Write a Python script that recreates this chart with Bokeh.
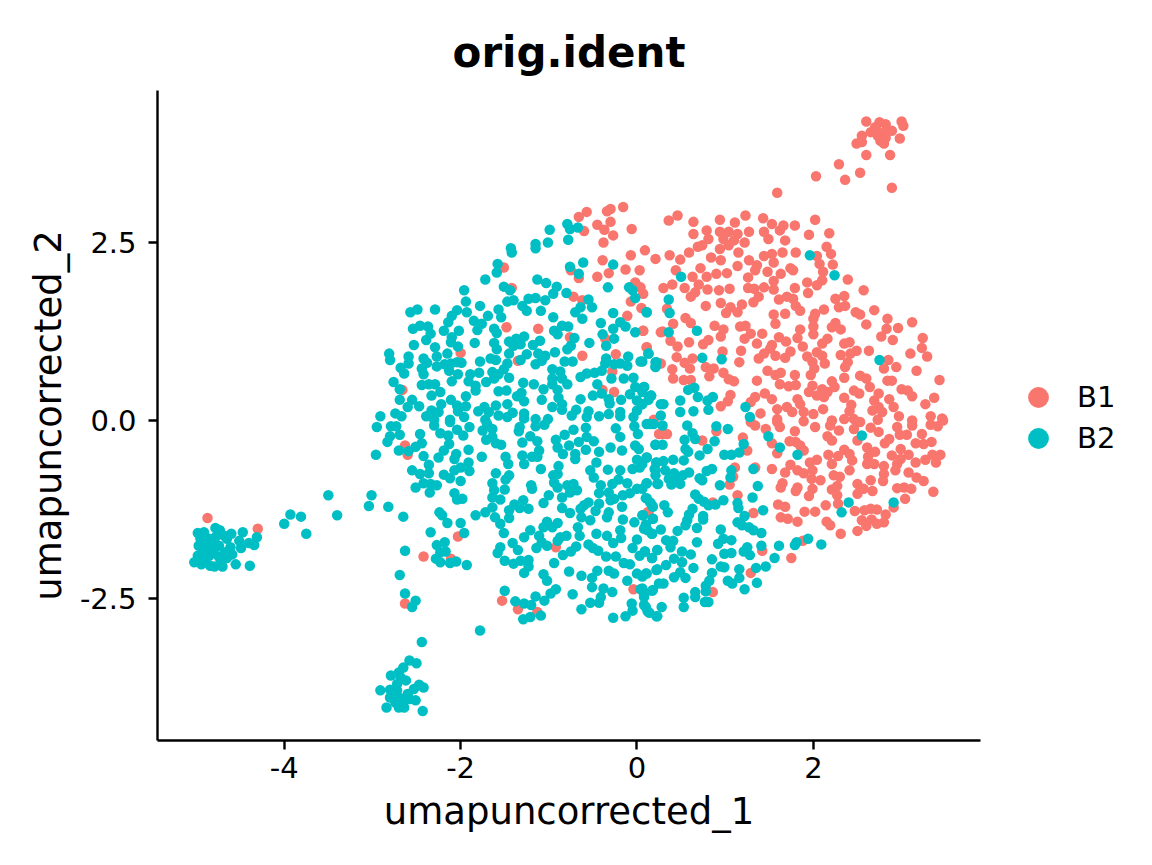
from bokeh.plotting import figure
from bokeh.layouts import row
from bokeh.models import Legend, LegendItem, FixedTicker, Range1d
from bokeh.embed import file_html
from bokeh.resources import INLINE

title_text = "orig.ident"
x_label = "umapuncorrected_1"
y_label = "umapuncorrected_2"
x_ticks = [-4, -2, 0, 2]
x_tick_labels = ["-4", "-2", "0", "2"]
y_ticks = [-2.5, 0, 2.5]
y_tick_labels = ["-2.5", "0.0", "2.5"]
series_names = ["B1", "B2"]
series_colors = ["#F8766D", "#00BFC4"]

b1_upper_right = [(.36,2.81),(.46,2.88),(.64,2.79),(.94,2.82),(1.11,2.78),(1.23,2.88),(1.43,2.84),(1.53,2.76),(1.66,2.74),(1.79,2.74),(2.02,2.82),
(.64,2.62),(.79,2.67),(.94,2.65),(1.04,2.65),(1.14,2.62),(1.27,2.65),(1.44,2.65),(1.62,2.67),(1.95,2.61),(2.18,2.63),(.81,2.55),(.98,2.55),(1.10,2.53),(1.49,2.55),(1.68,2.53),
(.74,2.46),(.69,2.44),(1.22,2.5),(.94,2.41),(1.04,2.46),(1.15,2.36),(.59,2.36),(.09,2.39),(.37,2.32),(1.80,2.36),(1.65,2.36),(1.53,2.34),(1.44,2.31),(2.15,2.44),(2.2,2.34),
(.21,2.27),(.49,2.26),(.84,2.29),(.95,2.25),(1.27,2.25),(1.55,2.22),(2.04,2.31),(2.07,2.2),(2.22,2.19),(.72,2.14),(1.14,2.17),(1.36,2.18),(1.74,2.14),(.44,2.11),(1.34,2.11),(1.48,2.09),(1.77,2.11),(2.11,2.09),
(.90,2.06),(1.02,2.07),(1.63,2.06),(.63,2.02),(.79,2.02),(1.26,2.01),(2.39,1.98),(1.55,1.96),(1.93,1.94),(2.1,1.97),(.40,1.91),(.70,1.91),(1.44,1.87),(2.04,1.9),(.30,1.86),(.54,1.86),(.80,1.84),(.93,1.83),(1.05,1.85),(1.26,1.86),(1.33,1.85),(1.55,1.84),(1.79,1.86),(1.94,1.79),(2.57,1.83),(.66,1.8),
(.61,1.74),(1.38,1.74),(2.35,1.75),(1.61,1.70),(1.70,1.74),(1.77,1.71),(2.25,1.71),(.95,1.65),(1.32,1.66),(.78,1.61),(1.19,1.63),(2.29,1.59),(2.36,1.61),(1.06,1.59),(1.80,1.61),(2.12,1.56),(2.48,1.52),(2.69,1.55),(.34,1.57),(1.01,1.51),(1.14,1.52),(1.85,1.54),(1.68,1.50),(1.55,1.49),(2.02,1.5),(2.53,1.49),
(.55,1.44),(2.84,1.43),(2.0,1.43),(2.25,1.37),(.61,1.37),(1.57,1.36),(2.6,1.35),(3.12,1.38),(.41,1.36),(.88,1.33),(1.17,1.32),(1.23,1.33),(2.0,1.32),(2.21,1.31),(2.31,1.28),(2.83,1.29),(2.96,1.3),(.98,1.28),(.07,1.26),(.29,1.25),(1.85,1.28),
(1.29,1.22),(1.42,1.22),(2.0,1.21),(.95,1.18),(1.22,1.15),(1.82,1.16),(1.61,1.17),(1.69,1.11),(2.16,1.15),(2.77,1.18),(3.24,1.16),(.81,1.13),(.38,1.12),(2.9,1.13),(.59,1.1),(1.36,1.08),(2.1,1.08),(2.35,1.08),(2.41,1.1),(.75,1.07),(1.53,1.06),(.46,1.04),(.11,1.03),(1.88,1.04),(3.23,1.02),
(.97,.97),(1.18,.98),(2.63,.98),(2.49,.98),(1.51,1.01),(1.74,.97),(1.44,.94),(2.04,.96),(2.42,.94),(2.31,.92),(3.10,.94),(.45,.89),(.63,.87),(1.38,.87),(1.57,.91),(1.68,.88),(1.93,.90),(2.1,.91),(3.29,.9),(2.85,.85),(1.16,.82),(.54,.81),(.27,.8),(1.99,.82),(2.13,.8),(2.39,.82),
(.78,.75),(.87,.73),(2.36,.75),(2.8,.73),(2.94,.75),(.6,.73),(.40,.72),(1.48,.7),(2.01,.73),(3.17,.7),(.98,.67),(.82,.62),(1.63,.67),(1.57,.64),(1.79,.64),(1.97,.64),(2.53,.63),(2.35,.6),(.41,.59),(.53,.57),(.61,.57),(1.04,.58),(1.10,.55),(1.36,.56),(2.6,.59),(2.84,.56),(2.89,.56),(3.43,.57),(2.21,.55),
(1.62,.51),(1.72,.48),(1.80,.5),(1.99,.49),(2.24,.47),(2.64,.47),(3.0,.44),(2.1,.44),(2.46,.42),(3.07,.42),(1.95,.4),(2.16,.4),(1.45,.38),(2.52,.38),(2.74,.38),(3.12,.34),(2.04,.35),(2.12,.33),(1.34,.33),(1.06,.36),(2.35,.32),(3.37,.32),(1.53,.3),(1.82,.3),(2.69,.28),(2.86,.3),(1.03,.27),(1.29,.26),(1.85,.23),(2.43,.22),(3.27,.23),(.95,.2),(1.70,.19),(1.59,.16),(2.11,.16),(2.74,.19),(2.91,.19),(2.41,.13),(2.67,.14),(1.40,.1),(1.76,.12),(1.89,.12),(2.0,.09),(2.78,.12),(2.97,.06),(3.33,.06),(3.46,.03),(1.59,.02),(2.21,0),(2.46,.02),(2.35,.02),(2.73,.01),(3.12,0)]

b1_upper_left = [(-.157,3.0),(-.66,2.86),(-.57,2.93),(-.34,2.94),(-.30,2.97),(-.45,2.75),(-.30,2.79),(-.06,2.69),(-.37,2.68),(-.60,2.66),(-.27,2.60),(-.38,2.50),(-.07,2.32),(-.39,2.25),(-.13,2.12),(.03,2.11),(-.75,2.11),(-.32,2.07),(-.45,2.02),(-.66,2.0),(-1.51,2.15),(-1.42,1.86),(-.02,1.94),(.04,1.87),(.07,1.78),(-.07,1.67),(-.72,1.74),(-.62,1.69),(.05,1.58),(-.11,1.47),(-1.48,1.31),(-1.12,1.29),(.07,1.26),(.27,1.24),(-.76,1.17),(.11,1.03),(-.36,1.15),(-2.0,.95),(-.62,.91),(-.24,.93),(-1.35,.84),(-.28,.69),(-2.66,.43),(-.26,.40),(-.39,.43),(.19,.01)]

b1_lower_left = [(-2.63,-.35),(-2.6,-.48),(.25,-.19),(.13,-1.29),(-.92,-1.78),(-2.03,-1.63),(-2.42,-1.91),(-2.11,-1.94),(-1.53,-2.53),(-2.63,-2.57),(-1.35,-2.65),(-1.13,-2.69),(-.04,-2.37)]

b1_lower_right = [(.29,-.19),(.34,-.19),(.9,-.15),(.74,-.28),(1.2,-.24),(1.25,-.42),(1.53,-.32),(1.59,-.46),(1.11,-.66),(1.34,-.66),(1.53,-.68),(1.09,-.79),(1.05,-.9),(1.14,-1.05),(.86,-1.15),(1.32,-1.3),(.12,-1.29),(1.42,-1.83),(1.75,-1.93),(1.88,-1.69),(1.29,-2.14),(.86,-2.41),(.51,-1.99),
(1.29,-.02),(1.34,-.07),(1.46,-.12),(1.59,-.02),(1.62,-.09),(1.79,-.15),(1.89,-.01),(2.02,-.09),(2.19,-.07),(2.29,-.14),(2.46,-.12),(2.53,-.02),(2.65,-.1),(2.74,-.16),(2.95,-.09),(2.98,-.2),(3.06,-.2),(3.12,-.07),(3.23,-.19),(3.33,-.06),(3.41,-.08),(3.47,0),
(2.16,-.22),(2.21,-.28),(1.73,-.29),(1.8,-.3),(1.85,-.35),(1.89,-.42),(2.5,-.28),(2.86,-.26),(2.81,-.32),(3.16,-.32),(3.25,-.33),(3.34,-.3),(2.61,-.38),(2.99,-.4),(2.7,-.44),(2.17,-.48),(2.35,-.41),(2.28,-.5),(2.41,-.47),(2.89,-.49),(3.08,-.48),(3.35,-.48),(3.44,-.48),(2.44,-.56),(2.62,-.51),(2.04,-.55),(1.96,-.59),(1.74,-.62),(2.21,-.61),(2.99,-.54),(3.16,-.59),(3.27,-.55),(3.39,-.59),(2.69,-.61),(2.61,-.61),(2.8,-.64),(2.95,-.61),(1.68,-.73),(1.82,-.7),(1.99,-.7),(2.41,-.7),(2.93,-.7),(3.08,-.73),(1.89,-.74),(2.8,-.75),(2.23,-.77),(2.3,-.79),(3.17,-.8),(1.98,-.82),(1.65,-.88),(2.08,-.84),(2.65,-.84),(2.79,-.85),(3.25,-.85),(2.5,-.89),(2.27,-.92),(1.82,-.94),(1.63,-.94),(1.99,-.96),(2.21,-.97),(2.57,-.96),(2.95,-.95),(3.03,-.94),(3.11,-.96),(3.36,-1.0),(1.8,-.99),(2.5,-1.03),(2.67,-.99),(1.95,-1.06),(2.27,-1.05),(3.04,-1.1),(1.6,-1.18),(1.68,-1.21),(2.14,-1.19),(2.28,-1.17),(2.91,-1.22),(2.72,-1.25),(2.58,-1.26),(2.65,-1.24),(2.47,-1.27),(1.9,-1.28),(2.02,-1.28),(2.82,-1.32),(1.63,-1.36),(1.71,-1.38),(2.55,-1.4),(2.66,-1.39),(1.82,-1.42),(2.15,-1.42),(2.19,-1.47),(2.72,-1.45),(2.8,-1.43),(2.6,-1.48),(2.5,-1.55),(2.31,-1.59)]

b1_left_cluster = [(-4.87,-1.37),(-4.3,-1.52)]

b1_top_cluster = [(1.59,3.2),(2.03,3.43),(2.29,3.6),(2.36,3.38),(2.53,3.48),(2.89,3.27),(2.6,3.73),(2.87,3.73),(2.49,3.89),(2.55,3.91),(2.55,4.0),(2.65,4.05),(2.6,4.2),(2.75,4.19),(2.7,4.12),(2.82,4.16),(2.73,4.0),(2.8,3.89),(2.82,3.97),(2.89,4.07),(2.98,3.96),(3.0,4.2),(3.02,4.14),(2.72,4.07),(2.81,4.05),(2.76,3.93)]

b2_upper_right = [(1.96,2.32),(2.24,2.04),(.5,2.02),(.36,1.70),(.11,1.52),(.37,1.51),(.36,1.24),(.68,1.26),(.13,.94),(.74,.88),(.96,.86),(2.75,.85),(.22,.82),(.06,.83),(.21,.76),(.08,.47),(.58,.43),(.65,.46),(.69,.33),(.16,.35),(.86,.33),(.8,.28),(.49,.28),(.13,.29),(.30,.23),(1.23,.19),(.81,.15),(.49,.12),(.64,.13),(.27,.07),(1.28,.05),(.06,.4),(.06,.23)]

b2_upper_left = [(-.99,2.68),(-.79,2.76),(-.76,2.69),(-.67,2.71),(-.78,2.54),(-1.01,2.5),(-1.15,2.48),(-1.15,2.42),(-1.43,2.42),(-1.42,2.36),(-1.58,2.2),(-1.59,2.08),(-1.72,1.98),(-.76,2.16),(-.61,2.22),(-.27,2.19),(-.66,2.06),(-1.13,1.98),(-1.03,1.93),(-.91,1.88),(-.33,1.87),(-1.51,1.88),(-1.44,1.83),(-1.96,1.83),(-.95,1.78),(-.8,1.79),(-.09,1.87),(-.05,1.83),(-.02,1.72),(-1.94,1.67),(-1.47,1.67),(-1.4,1.69),(-1.23,1.71),(-1.15,1.72),(-1.04,1.69),(-.55,1.7),(-1.78,1.61),(-2.04,1.55),(-2.49,1.56),(-2.57,1.52),(-2.29,1.56),(-1.57,1.56),(-1.30,1.61),(-1.09,1.54),(-1.25,1.54),(-.51,1.59),(-.64,1.59),(-.7,1.52),(-2.1,1.47),(-1.93,1.52),(-1.85,1.4),(-1.69,1.47),(-1.54,1.45),(-.95,1.45),(-.62,1.43),(.11,1.52),(-.27,1.51),(-2.14,1.38),(-1.76,1.36),(-2.46,1.33),(-2.37,1.32),(-2.54,1.29),(-.41,1.37),(-.19,1.38),(-.13,1.32),(-1.81,1.27),(-1.62,1.29),(-2.19,1.26),(-1.59,1.23),(-2.02,1.26),(-.94,1.26),(-.78,1.32),(-.85,1.33),(-.9,1.21),(-.27,1.29),(-.02,1.24),(-.39,1.21),(-2.34,1.22),(-2.1,1.17),(-2.39,1.13),(-.26,1.15),(-.71,1.16),(-1.28,1.18),(-1.1,1.12),(-1.45,1.11),(-1.37,1.15),(-2.11,1.1),(-1.84,1.09),(-1.62,1.09),(-1.4,1.05),(-1.32,1.07),(-2.53,1.06),(-1.18,1.06),(-.54,1.09),(-2.03,1.04),(-.75,1.05),(-.35,1.05),(-2.29,1.03),(-1.59,1.0),(-.79,1.0),(-2.81,.94),(-2.15,.94),(-2.59,.9),(-2.27,.9),(-1.45,.94),(-1.12,.94),(-.93,.96),(-1.04,.91),(.13,.94),(-1.25,.93),(-2.80,.85),(-2.42,.87),(-1.66,.87),(-1.6,.85),(-1.32,.85),(-1.08,.84),(-.35,.87),(-.1,.9),(-1.78,.83),(-1.99,.81),(-2.38,.81),(.04,.83),(-.82,.83),(-.73,.83),(.21,.82),(-2.59,.8),(-2.68,.74),(-2.27,.76),(-2.18,.79),(-2.11,.8),(-2.04,.82),(-1.15,.79),(-1.47,.8),(-.26,.79),(-.19,.8),(-.36,.8),(.21,.75),(-.11,.77),(-2.44,.73),(-2.64,.66),(-2.13,.7),(-1.51,.72),(-.96,.72),(-.87,.69),(-.4,.7),(-2.42,.65),(-1.64,.68),(-1.79,.67),(-1.89,.65),(-2.03,.65),(-1.57,.65),(-.48,.67),(-.57,.66),(-.64,.61),(-1.45,.6),(-1.62,.59),(-.96,.59),(-.85,.59),(-.29,.59),(-.15,.59),(-.04,.6),(-2.1,.55),(-1.91,.55),(-1.71,.54),(-2.76,.54),(-1.29,.53),(-1.17,.51),(-.96,.51),(-.45,.51),(-.79,.51),(-2.44,.5),(-2.36,.51),(-2.29,.51),(-1.83,.49),(.08,.47),(-.02,.47),(-2.69,.44),(-1.06,.44),(-.9,.43),(-1.57,.41),(-1.48,.42),(-1.83,.42),(-2.23,.4),(-2.33,.35),(-1.31,.39),(-.4,.38),(-.08,.37),(-.5,.35),(.16,.35),(-.18,.29),(-.32,.3),(-1.94,.34),(-1.36,.34),(-.64,.3),(-1.08,.29),(-.89,.32),(-2.69,.29),(0,.28),(-1.28,.27),(.06,.23),(-2.11,.29),(-2.55,.29),(-1.47,.23),(-2.22,.23),(.27,.23),(-.85,.23),(-.31,.24),(-2.6,.19),(-2.47,.2),(-2.04,.21),(-1.94,.2),(-1.6,.21),(-1.73,.19),(-2.74,.1),(-.96,.19),(0,.14),(-.69,.15),(-2.33,.14),(-1.8,.13),(-1.41,.11),(-.19,.12),(-.85,.15),(-2.25,.12),(-1.68,.12),(-1.28,.1),(-.55,.13),(-2.91,.06),(-2.67,.06),(-2.39,.06),(-2.03,.13),(-.74,.07),(-.32,.09),(-.19,.06),(-2.12,.01),(-1.96,.05),(-1.57,.07),(-1.47,.05),(-1.15,.02),(-1.01,.02),(-1.28,.03),(-.43,.06),(-1.72,.01),(-.57,.05),(-.04,.05),(-2.3,.01)]

b2_lower_left_a = [(-2.95,-.09),(-2.79,-.08),(-2.73,-.08),(-2.69,-.2),(-2.8,-.22),(-2.83,-.3),(-2.96,-.48),(-2.7,-.42),(-2.59,-.43),(-2.51,-.37),(-2.44,-.32),(-2.46,-.19),(-2.42,-.5),(-2.3,-.07),(-2.23,-.18),(-2.12,-.02),(-2.04,-.13),(-1.97,-.21),(-1.9,-.09),(-2.14,-.21),(-2.13,-.33),(-2.19,-.42),(-2.25,-.52),(-2.05,-.47),(-2.07,-.54),(-1.91,-.41),(-1.76,-.51),(-2.36,-.62),(-1.91,-.59),(-2.0,-.66),(-2.55,-.7),(-2.46,-.75),(-2.36,-.74),(-2.07,-.7),(-1.9,-.71),(-2.19,-.76),(-2.12,-.81),(-2.0,-.85),(-2.42,-.88),(-2.34,-.89),(-2.27,-.91),(-2.51,-.94),(-2.35,-1.01),(-2.07,-1.02),(-3.01,-1.05),(-2.04,-1.11),(-1.98,-1.1),(-3.04,-1.2),(-2.82,-1.21),(-2.65,-1.35),(-2.24,-1.29),(-2.21,-1.33),(-2.15,-1.44),(-2.0,-1.44),(-1.96,-1.58),(-2.34,-1.57),(-2.18,-1.71),(-2.27,-1.75),(-2.23,-1.85),(-2.17,-1.84),(-2.28,-1.94),(-2.23,-1.99),(-2.12,-2.0),(-2.05,-1.98),(-1.93,-2.03),(-2.63,-1.83),(-2.69,-2.17),(-2.63,-2.43),(-2.51,-2.53),(-2.55,-2.62),(-1.78,-2.95),(-2.44,-3.11)]

b2_lower_left_b = [(-1.7,-.05),(-1.64,-.12),(-1.75,-.14),(-1.71,-.27),(-1.64,-.23),(-1.6,-.32),(-1.54,-.34),(-1.49,-.51),(-1.46,-.61),(-1.6,-.74),(-1.45,-.77),(-1.49,-.83),(-1.64,-.88),(-1.5,-.97),(-1.62,-.98),(-1.64,-1.08),(-1.55,-1.11),(-1.64,-1.22),(-1.72,-1.29),(-1.83,-1.33),(-1.61,-1.36),(-1.55,-1.45),(-1.51,-1.58),(-1.45,-1.37),(-1.45,-1.26),(-1.39,-1.18),(-1.29,-1.12),(-1.23,-1.24),(-1.33,-1.23),(-1.06,-1.16),(-1.0,-1.05),(-1.33,-.09),(-1.34,-.15),(-1.30,-.31),(-1.21,-.22),(-1.13,-.29),(-1.15,-.08),(-1.05,-.06),(-1.3,-.49),(-1.11,-.42),(-1.19,-.51),(-1.28,-.61),(-1.13,-.51),(-1.09,-.68),(-1.2,-.91),(-1.19,-.96),(-.92,-.27),(-.9,-.38),(-.82,-.2),(-.72,-.13),(-.77,-.35),(-.84,-.47),(-.7,-.47),(-.7,-.54),(-.66,-.3),(-.58,-.1),(-.57,-.23),(-.58,-.41),(-.49,-.29),(-.43,-.44),(-.3,-.38),(-.24,-.11),(-.19,-.23),(-.17,-.42),(-.02,-.35),(.02,-.4),(-.03,-.08),(.01,-.19),(.11,-.05),(.19,-.05),(.21,-.34),(-.89,-.64),(-.53,-.7),(-.46,-.59),(-.33,-.69),(-.19,-.7),(0,-.55),(.11,-.52),(-.05,-.68),(.03,-.66),(.22,-.59),(.21,-.7),(-.95,-.77),(-.9,-.75),(-.94,-.87),(-.9,-.94),(-.79,-.91),(-.72,-.89),(-.68,-.98),(-.85,-1.08),(-.76,-1.01),(-.49,-.8),(-.41,-.91),(-.28,-.89),(-.21,-.83),(-.11,-.88),(.11,-.88),(.23,-.89),(0,-.96),(-.43,-1.02),(-.32,-1.01),(-.08,-1.02),(-.26,-1.1),(-.16,-1.05),(.1,-1.09),(-.55,-1.15),(-.43,-1.17),(-.3,-1.12),(.17,-1.19),(-.17,-1.21),(-.85,-1.23),(-.76,-1.3),(-.64,-1.24),(-.6,-1.19),(-.47,-1.27),(-.34,-1.36),(-.32,-1.29),(.06,-1.33),(.18,-1.38),(-.63,-1.36),(-.53,-1.4),(-.16,-1.39),(-.03,-1.43),(-.9,-1.44),(-1.02,-1.42),(-1.06,-1.5),(-.67,-1.5),(.08,-1.52),(-.19,-1.54),(-1.21,-1.54),(-1.11,-1.62),(-1.28,-1.64),(-.96,-1.5),(-.65,-1.62),(-.46,-1.59),(-.34,-1.62),(.17,-1.59),(-.8,-1.62),(-.87,-1.64),(-.9,-1.69),(-.18,-1.65),(-.27,-1.72),(0,-1.67),(-1.41,-1.72),(-1.02,-1.76),(-1.08,-1.71),(-.55,-1.74),(-.69,-1.77),(-.05,-1.79),(-1.14,-1.79),(-1.35,-1.82),(-1.55,-1.78),(-.5,-1.79),(-.44,-1.83),(-.75,-1.84),(-1.58,-1.86),(.09,-1.84),(.23,-1.82),(-.84,-1.89),(-.35,-1.91),(-.24,-1.91),(.03,-1.9),(.17,-1.93),(-1.5,-1.97),(-1.32,-1.97),(-1.23,-1.96),(-1.4,-2.01),(-.15,-2.0),(-.08,-2.02),(-.94,-2.0),(-1.23,-2.05),(-1.28,-2.14),(-.45,-2.11),(-.32,-2.11),(-.77,-2.12),(-.26,-2.15),(.22,-2.1),(.1,-2.15),(-1.06,-2.16),(-.63,-2.18),(0,-2.15),(-.51,-2.21),(-1.02,-2.25),(-.11,-2.25),(.25,-2.29),(-.51,-2.34),(-.38,-2.36),(.04,-2.37),(.17,-2.39),(-.28,-2.41),(-1.5,-2.39),(-.92,-2.37),(-.98,-2.43),(-.73,-2.44),(.08,-2.46),(-1.15,-2.47),(-1.05,-2.53),(-.41,-2.48),(-1.38,-2.54),(-.53,-2.56),(-.43,-2.56),(-1.28,-2.57),(-1.2,-2.59),(-.06,-2.57),(.1,-2.62),(-.63,-2.65),(-.05,-2.67),(.14,-2.7),(.22,-2.75),(-.13,-2.75),(-.27,-2.77),(-1.09,-2.74),(-1.21,-2.76),(-1.29,-2.79)]

b2_lower_right = [(.15,-.05),(.29,-.07),(.57,-.07),(.9,-.08),(1.03,-.12),(.63,-.18),(.66,-.26),(.54,-.27),(.88,-.29),(1.49,-.22),(2.55,-.21),(1.21,-.33),(.21,-.34),(.29,-.34),(.55,-.4),(.8,-.4),(1.62,-.38),(.58,-.44),(1.16,-.45),(.99,-.48),(1.07,-.48),(.71,-.49),(1.82,-.48),(.11,-.52),(.41,-.55),(.53,-.56),(.30,-.57),(.22,-.59),(.06,-.61),(.2,-.68),(.85,-.68),(.79,-.71),(1.07,-.7),(1.32,-.68),(.32,-.7),(.59,-.73),(.42,-.74),(.21,-.77),(.52,-.77),(1.06,-.8),(.71,-.81),(.36,-.82),(.46,-.84),(.74,-.84),(.11,-.88),(.24,-.89),(.39,-.9),(.49,-.89),(.94,-.91),(1.37,-.92),(.06,-.96),(.66,-1.04),(1.31,-1.08),(.11,-1.09),(.7,-1.1),(.76,-1.14),(.15,-1.15),(.98,-1.12),(2.4,-1.15),(2.91,-1.15),(1.14,-1.16),(.81,-1.19),(.89,-1.18),(.31,-1.19),(.18,-1.21),(1.15,-1.23),(.63,-1.24),(.35,-1.29),(1.43,-1.26),(2.32,-1.29),(.59,-1.32),(.07,-1.33),(.75,-1.34),(1.22,-1.34),(.18,-1.38),(.75,-1.39),(.57,-1.4),(1.14,-1.43),(.55,-1.47),(.1,-1.46),(1.19,-1.47),(1.27,-1.5),(.68,-1.51),(.95,-1.53),(.27,-1.53),(.12,-1.54),(1.32,-1.54),(.46,-1.55),(1.41,-1.58),(.17,-1.59),(.98,-1.66),(1.07,-1.68),(.33,-1.68),(.41,-1.69),(.68,-1.71),(.92,-1.73),(1.81,-1.71),(1.94,-1.66),(1.79,-1.75),(2.09,-1.74),(1.61,-1.76),(1.41,-1.76),(1.25,-1.78),(.38,-1.78),(.09,-1.84),(.23,-1.82),(.51,-1.84),(1.21,-1.84),(.61,-1.88),(.99,-1.87),(1.07,-1.86),(1.28,-1.89),(1.56,-1.93),(.42,-1.94),(.17,-1.93),(.85,-1.95),(.51,-1.99),(.33,-2.03),(1.46,-2.05),(1.35,-2.07),(.95,-2.05),(.99,-2.06),(.64,-2.07),(1.16,-2.09),(.23,-2.09),(.49,-2.13),(.11,-2.15),(.85,-2.14),(.06,-2.19),(.42,-2.2),(.55,-2.21),(1.16,-2.21),(.82,-2.25),(1.03,-2.25),(.30,-2.29),(1.08,-2.29),(1.36,-2.28),(.78,-2.32),(.06,-2.36),(.18,-2.38),(1.22,-2.37),(.78,-2.4),(.66,-2.41),(.66,-2.48),(.53,-2.49),(.08,-2.48),(.77,-2.55),(.81,-2.55),(.08,-2.59),(.28,-2.62),(.53,-2.62),(.12,-2.68),(.23,-2.75)]

b2_left_cluster = [(-4.98,-1.58),(-4.91,-1.57),(-4.78,-1.51),(-4.73,-1.54),(-4.6,-1.59),(-4.47,-1.57),(-4.31,-1.64),(-4.68,-1.62),(-4.95,-1.66),(-4.85,-1.66),(-4.78,-1.64),(-4.65,-1.66),(-4.51,-1.69),(-4.4,-1.72),(-4.34,-1.75),(-4.97,-1.76),(-4.89,-1.76),(-4.82,-1.73),(-4.74,-1.76),(-4.61,-1.78),(-4.49,-1.79),(-4.91,-1.83),(-4.8,-1.82),(-4.67,-1.85),(-4.59,-1.88),(-4.98,-1.9),(-4.85,-1.9),(-4.74,-1.91),(-4.65,-1.93),(-5.02,-1.99),(-4.94,-2.02),(-4.9,-1.94),(-4.84,-2.04),(-4.79,-2.05),(-4.7,-2.05),(-4.72,-1.97),(-4.55,-2.02),(-4.39,-2.04)]

b2_bridge = [(-3.93,-1.32),(-3.81,-1.35),(-4.0,-1.45),(-3.75,-1.59),(-3.5,-1.05),(-3.4,-1.33)]

b2_bottom_cluster = [(-2.58,-3.37),(-2.5,-3.41),(-2.65,-3.47),(-2.7,-3.54),(-2.79,-3.58),(-2.68,-3.61),(-2.62,-3.65),(-2.72,-3.7),(-2.91,-3.79),(-2.8,-3.78),(-2.72,-3.79),(-2.47,-3.71),(-2.42,-3.75),(-2.53,-3.77),(-2.6,-3.84),(-2.8,-3.89),(-2.7,-3.89),(-2.51,-3.93),(-2.58,-3.91),(-2.74,-3.96),(-2.66,-3.96),(-2.7,-4.03),(-2.64,-4.03),(-2.84,-4.03),(-2.43,-4.08)]

b1_points = b1_upper_right + b1_upper_left + b1_lower_left + b1_lower_right + b1_left_cluster + b1_top_cluster
b2_points = b2_upper_right + b2_upper_left + b2_lower_left_a + b2_lower_left_b + b2_lower_right + b2_left_cluster + b2_bridge + b2_bottom_cluster

p = figure(width=990, height=849, output_backend="svg", toolbar_location=None,
           x_range=Range1d(-5.437, 3.895), y_range=Range1d(-4.494, 4.635),
           min_border_left=157, min_border_right=10, min_border_top=90, min_border_bottom=109)
p.grid.visible = False
p.outline_line_color = None
p.background_fill_color = "white"

p.scatter([a for a, b in b1_points], [b for a, b in b1_points], size=10.5,
          fill_color=series_colors[0], line_color=None)
p.scatter([a for a, b in b2_points], [b for a, b in b2_points], size=10.5,
          fill_color=series_colors[1], line_color=None)

p.title.text = title_text
p.title.align = "center"
p.title.text_font = "DejaVu Sans"
p.title.text_font_size = "42px"
p.title.text_font_style = "bold"
p.title.text_color = "black"
p.title.standoff = 27

for ax, ticks, labels, name in ((p.xaxis[0], x_ticks, x_tick_labels, x_label),
                                (p.yaxis[0], y_ticks, y_tick_labels, y_label)):
    ax.ticker = FixedTicker(ticks=ticks)
    ax.major_label_overrides = dict(zip(ticks, labels))
    ax.axis_label = name
    ax.axis_label_text_font = "DejaVu Sans"
    ax.axis_label_text_font_size = "37px"
    ax.axis_label_text_font_style = "normal"
    ax.axis_label_text_color = "black"
    ax.major_label_text_font = "DejaVu Sans"
    ax.major_label_text_font_size = "29px"
    ax.major_label_text_color = "black"
    ax.axis_line_color = "black"
    ax.axis_line_width = 2.4
    ax.major_tick_line_color = "black"
    ax.major_tick_line_width = 2.4
    ax.major_tick_out = 9
    ax.major_tick_in = 0
    ax.minor_tick_line_color = None
p.xaxis[0].major_label_standoff = 7
p.yaxis[0].major_label_standoff = 12
p.xaxis[0].axis_label_standoff = 9
p.yaxis[0].axis_label_standoff = 7
p.yaxis[0].major_label_orientation = "horizontal"

# Legend keys live in their own small figure so they are not clipped by the plot frame.
key = figure(width=146, height=849, output_backend="svg", toolbar_location=None,
             x_range=Range1d(0, 1), y_range=Range1d(0, 1),
             x_axis_location=None, y_axis_location=None,
             min_border_left=0, min_border_right=0, min_border_top=0, min_border_bottom=0)
key.grid.visible = False
key.outline_line_color = None

for name, color, loc in zip(series_names, series_colors, [(22, 317), (22, 276)]):
    dummy = key.scatter([-1], [-1], size=21, fill_color=color, line_color=None)
    key.add_layout(Legend(items=[LegendItem(label=name, renderers=[dummy])],
                          location=loc, glyph_width=52, glyph_height=52,
                          padding=0, margin=0, label_standoff=13,
                          label_text_font="DejaVu Sans", label_text_font_size="29px",
                          label_text_color="black", border_line_color=None,
                          background_fill_alpha=0), "center")

open("out.html", "w").write(file_html(row(p, key), INLINE))
